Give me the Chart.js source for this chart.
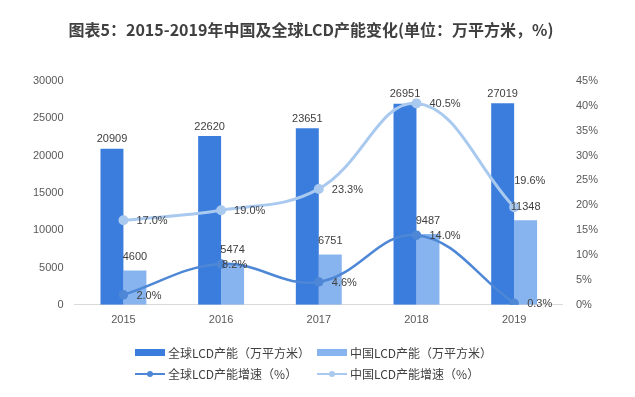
<!DOCTYPE html>
<html>
<head>
<meta charset="utf-8">
<script src="https://cdn.jsdelivr.net/npm/chart.js@4"></script>
<style>
  body { margin: 0; background: #fff; font-family: "Noto Sans CJK SC", "Liberation Sans", sans-serif; }
  #wrap { position: relative; width: 635px; height: 397px; }
  #title { position: absolute; top: 17px; left: 0; width: 622px; text-align: center; font-size: 16px; font-weight: bold; color: #404040; }
  #legend { position: absolute; left: 135px; top: 342px; font-size: 12px; color: #404040; }
  .row { height: 21px; display: flex; align-items: center; }
  .item { display: flex; align-items: center; }
  .box { width: 30px; height: 7px; margin-right: 3px; }
  .ln { position: relative; width: 30px; height: 2px; margin-right: 3px; }
  .ln i { position: absolute; left: 12px; top: -2px; width: 6px; height: 6px; border-radius: 3px; }
</style>
</head>
<body>
<div id="wrap">
  <div id="title">图表5：2015-2019年中国及全球LCD产能变化(单位：万平方米，%)</div>
  <canvas id="chart" width="635" height="397"></canvas>
  <div id="legend">
    <div class="row">
      <div class="item" style="width:182px"><span class="box" style="background:#3b7ddd"></span>全球LCD产能（万平方米）</div>
      <div class="item"><span class="box" style="background:#87b3ee"></span>中国LCD产能（万平方米）</div>
    </div>
    <div class="row">
      <div class="item" style="width:182px"><span class="ln" style="background:#4d87d6"><i style="background:#4d87d6"></i></span>全球LCD产能增速（%）</div>
      <div class="item"><span class="ln" style="background:#a9c9ef"><i style="background:#a9c9ef"></i></span>中国LCD产能增速（%）</div>
    </div>
  </div>
</div>
<script>
const years = ['2015', '2016', '2017', '2018', '2019'];
const globalCap = [20909, 22620, 23651, 26951, 27019];
const chinaCap = [4600, 5474, 6751, 9487, 11348];
const globalGrowth = [2.0, 8.2, 4.6, 14.0, 0.3];
const chinaGrowth = [17.0, 19.0, 23.3, 40.5, 19.6];

// manual nudges for a couple of labels, like in the original
const labelNudge = { '0-1': [-12, 0], '1-4': [-13, -27] };

const valueLabels = {
  id: 'valueLabels',
  afterDatasetsDraw(chart) {
    const ctx = chart.ctx;
    ctx.save();
    ctx.font = '11px "Liberation Sans", sans-serif';
    ctx.fillStyle = '#404040';
    chart.data.datasets.forEach((ds, i) => {
      const meta = chart.getDatasetMeta(i);
      meta.data.forEach((el, j) => {
        const v = ds.data[j];
        if (ds.type === 'bar') {
          ctx.textAlign = 'center';
          ctx.textBaseline = 'bottom';
          ctx.fillText(String(v), el.x, el.y - (i === 2 ? 4 : 8));
        } else {
          const n = labelNudge[i + '-' + j] || [0, 0];
          ctx.textAlign = 'left';
          ctx.textBaseline = 'middle';
          ctx.fillText(v.toFixed(1) + '%', el.x + 13 + n[0], el.y + 1 + n[1]);
        }
      });
    });
    ctx.restore();
  }
};

new Chart(document.getElementById('chart'), {
  data: {
    labels: years,
    datasets: [
      { type: 'line', label: '全球LCD产能增速（%）', data: globalGrowth, yAxisID: 'y2', order: 1,
        borderColor: '#4d87d6', backgroundColor: '#4d87d6', borderWidth: 2.5, tension: 0.4, pointRadius: 3.5 },
      { type: 'line', label: '中国LCD产能增速（%）', data: chinaGrowth, yAxisID: 'y2', order: 1,
        borderColor: '#a9c9ef', backgroundColor: '#a9c9ef', borderWidth: 3, tension: 0.4, pointRadius: 3.5 },
      { type: 'bar', label: '全球LCD产能（万平方米）', data: globalCap, yAxisID: 'y', order: 2,
        backgroundColor: '#3b7ddd', categoryPercentage: 0.47, barPercentage: 1 },
      { type: 'bar', label: '中国LCD产能（万平方米）', data: chinaCap, yAxisID: 'y', order: 2,
        backgroundColor: '#87b3ee', categoryPercentage: 0.47, barPercentage: 1 }
    ]
  },
  options: {
    responsive: false,
    animation: false,
    layout: { padding: { left: 22, right: 24, top: 81, bottom: 61 } },
    plugins: { legend: { display: false }, tooltip: { enabled: false } },
    scales: {
      x: {
        grid: { display: false, drawTicks: false },
        border: { color: '#d9d9d9' },
        ticks: { color: '#595959', font: { size: 11, family: 'Liberation Sans' }, padding: 9 }
      },
      y: {
        position: 'left', min: 0, max: 30000,
        grid: { display: false, drawTicks: false },
        border: { display: false },
        ticks: { stepSize: 5000, color: '#595959', font: { size: 11, family: 'Liberation Sans' }, padding: 11,
          callback: v => String(v) }
      },
      y2: {
        position: 'right', min: 0, max: 45,
        grid: { display: false, drawTicks: false },
        border: { display: false },
        ticks: { stepSize: 5, color: '#595959', font: { size: 11, family: 'Liberation Sans' }, padding: 13,
          callback: v => v + '%' }
      }
    }
  },
  plugins: [valueLabels]
});
</script>
</body>
</html>
